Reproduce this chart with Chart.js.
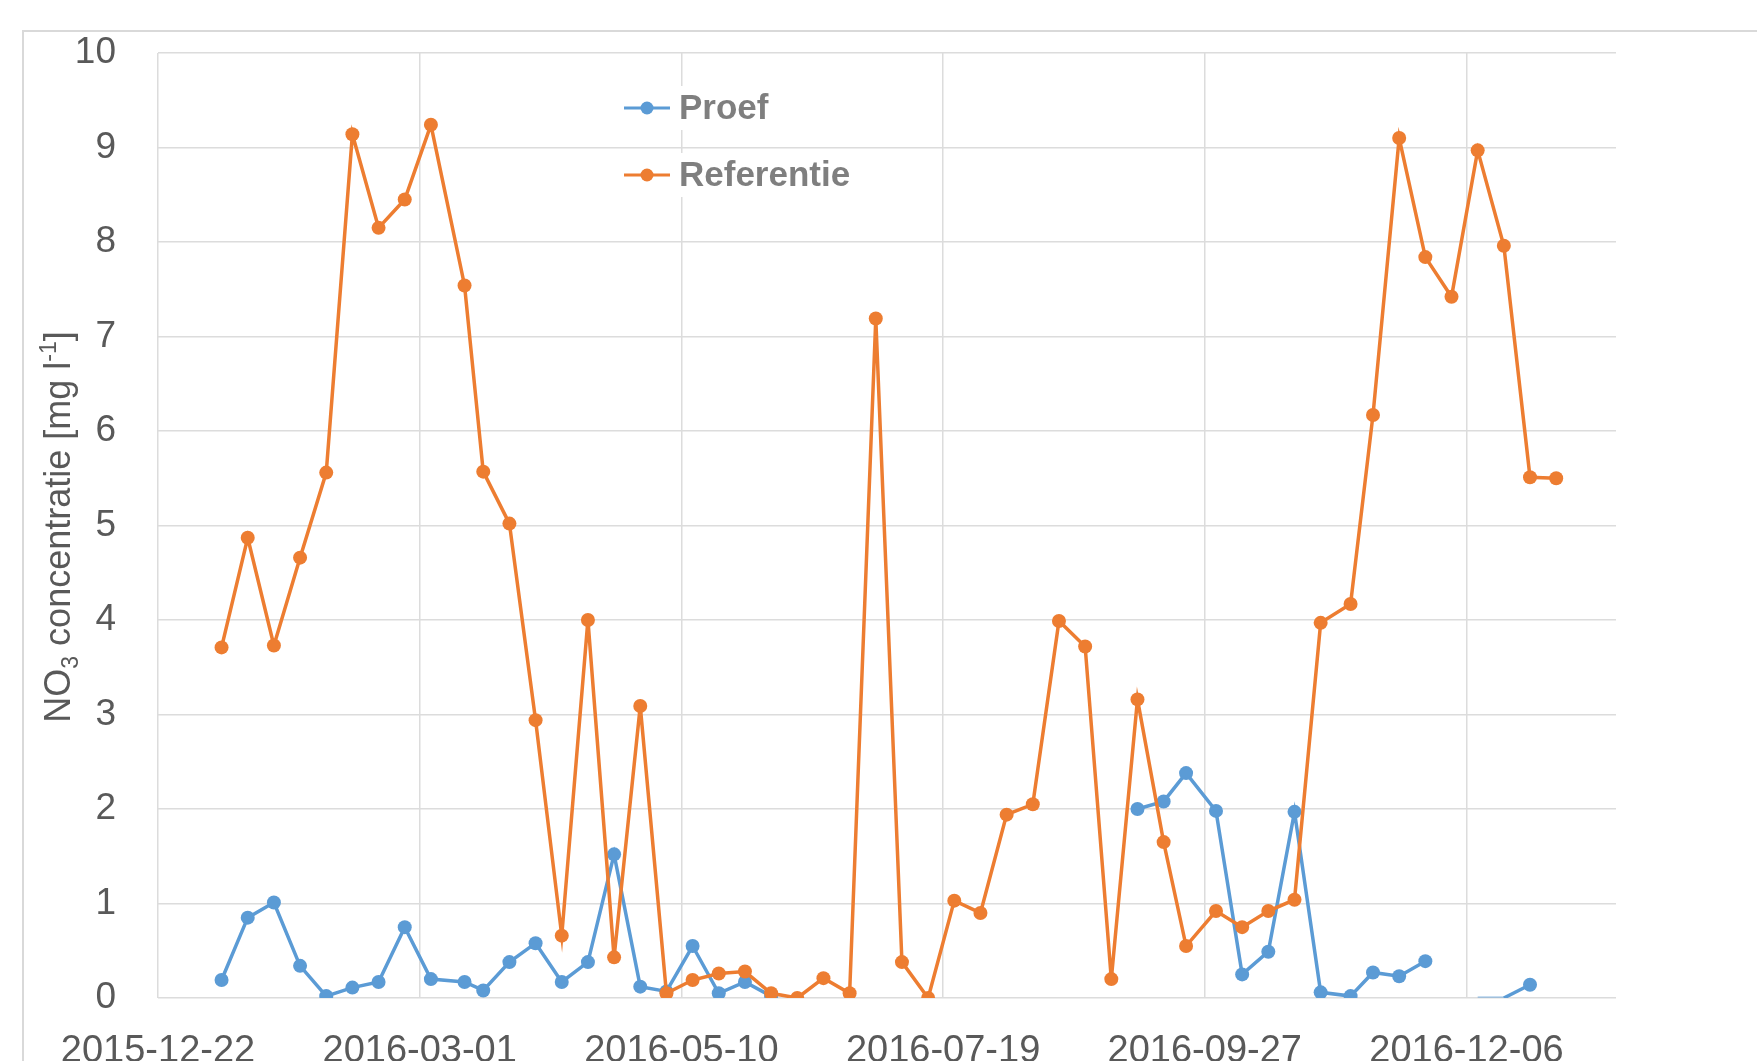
<!DOCTYPE html>
<html>
<head>
<meta charset="utf-8">
<script src="https://cdn.jsdelivr.net/npm/chart.js@4.4.1/dist/chart.umd.min.js"></script>
<style>
html, body { margin: 0; padding: 0; background: #fff; }
#wrap { position: relative; width: 1757px; height: 1061px; overflow: hidden; }
#frame { position: absolute; left: 22px; top: 30px; width: 2000px; height: 2000px;
         border-left: 2px solid #d9d9d9; border-top: 2px solid #d9d9d9; }
#canvas { position: absolute; left: 0; top: 0; }
</style>
</head>
<body>
<div id="wrap">
  <div id="frame"></div>
  <canvas id="canvas" width="1757" height="1061"></canvas>
</div>
<script>
// axis starts at this date, labels every 70 days
const startDate = '2015-12-22';
const xTickDays = [0, 70, 140, 210, 280, 350];
const xMaxDays = 390;
const yTicks = [0, 1, 2, 3, 4, 5, 6, 7, 8, 9, 10];

// sample dates (weekly)
const sampleDates = [
  '2016-01-08', '2016-01-15', '2016-01-22', '2016-01-29', '2016-02-05', '2016-02-12',
  '2016-02-19', '2016-02-26', '2016-03-04', '2016-03-13', '2016-03-18', '2016-03-25',
  '2016-04-01', '2016-04-08', '2016-04-15', '2016-04-22', '2016-04-29', '2016-05-06',
  '2016-05-13', '2016-05-20', '2016-05-27', '2016-06-03', '2016-06-10', '2016-06-17',
  '2016-06-24', '2016-07-01', '2016-07-08', '2016-07-15', '2016-07-22', '2016-07-29',
  '2016-08-05', '2016-08-12', '2016-08-19', '2016-08-26', '2016-09-02', '2016-09-09',
  '2016-09-16', '2016-09-22', '2016-09-30', '2016-10-07', '2016-10-14', '2016-10-21',
  '2016-10-28', '2016-11-05', '2016-11-11', '2016-11-18', '2016-11-25', '2016-12-02',
  '2016-12-09', '2016-12-16', '2016-12-23', '2016-12-30'
];

// NO3 concentratie [mg/l]
const proef = [
  0.19, 0.85, 1.01, 0.34, 0.02, 0.11, 0.17, 0.75, 0.20, 0.17, 0.08, 0.38,
  0.58, 0.17, 0.38, 1.52, 0.12, 0.07, 0.55, 0.05, 0.17, 0.02, null, null,
  null, null, null, null, null, null, null, null, null, null, null, 2.00,
  2.08, 2.38, 1.98, 0.25, 0.49, 1.97, 0.06, 0.02, 0.27, 0.23, 0.39, null,
  0, 0, 0.14, null
];
const referentie = [
  3.71, 4.87, 3.73, 4.66, 5.56, 9.14, 8.15, 8.45, 9.24, 7.54, 5.57, 5.02,
  2.94, 0.66, 4.00, 0.43, 3.09, 0.05, 0.19, 0.26, 0.28, 0.05, 0.00, 0.21,
  0.05, 7.19, 0.38, 0.00, 1.03, 0.90, 1.94, 2.05, 3.99, 3.72, 0.20, 3.16,
  1.65, 0.55, 0.92, 0.75, 0.92, 1.04, 3.97, 4.17, 6.17, 9.10, 7.84, 7.42,
  8.97, 7.96, 5.51, 5.50
];

const BLUE = '#5b9bd5';
const ORANGE = '#ed7d31';
const TEXT = '#595959';
const GRID = '#dcdcdc';
const FONT = '"Liberation Sans", Arial, sans-serif';

const dayMs = 86400000;
function dayOffset(s) {
  return Math.round((Date.parse(s) - Date.parse(startDate)) / dayMs);
}
function dayLabel(d) {
  return new Date(Date.parse(startDate) + d * dayMs).toISOString().slice(0, 10);
}
function toPoints(values) {
  return sampleDates.map((s, i) => ({ x: dayOffset(s), y: values[i] }));
}

// y axis title with sub/superscript
const axisTitle = {
  id: 'axisTitle',
  afterDraw(chart) {
    const ctx = chart.ctx;
    const big = '36px ' + FONT;
    const small = '23px ' + FONT;
    const parts = [
      { t: 'NO', f: big, dy: 0 },
      { t: '3', f: small, dy: 8 },
      { t: ' concentratie [mg l', f: big, dy: 0 },
      { t: '-1', f: small, dy: -14 },
      { t: ']', f: big, dy: 0 }
    ];
    let total = 0;
    parts.forEach(p => { ctx.font = p.f; p.w = ctx.measureText(p.t).width; total += p.w; });
    ctx.save();
    ctx.translate(70, 527);
    ctx.rotate(-Math.PI / 2);
    ctx.fillStyle = TEXT;
    ctx.textBaseline = 'alphabetic';
    ctx.textAlign = 'left';
    let x = -total / 2;
    parts.forEach(p => { ctx.font = p.f; ctx.fillText(p.t, x, p.dy); x += p.w; });
    ctx.restore();
  }
};

// legend drawn inside the plot
const innerLegend = {
  id: 'innerLegend',
  afterDatasetsDraw(chart) {
    const ctx = chart.ctx;
    const x0 = 624, y0 = 108, gap = 67;
    ctx.save();
    ctx.font = 'bold 35px ' + FONT;
    ctx.textBaseline = 'middle';
    chart.data.datasets.forEach((ds, i) => {
      const y = y0 + i * gap;
      const w = ctx.measureText(ds.label).width;
      ctx.fillStyle = '#fff';
      ctx.fillRect(676, y - 22, w + 6, 44);
      ctx.strokeStyle = ds.borderColor;
      ctx.lineWidth = 3;
      ctx.beginPath();
      ctx.moveTo(x0, y);
      ctx.lineTo(x0 + 46, y);
      ctx.stroke();
      ctx.fillStyle = ds.borderColor;
      ctx.beginPath();
      ctx.arc(x0 + 23, y, 6.5, 0, Math.PI * 2);
      ctx.fill();
      ctx.fillStyle = '#7f7f7f';
      ctx.fillText(ds.label, 679, y + 1);
    });
    ctx.restore();
  }
};

const ctx = document.getElementById('canvas').getContext('2d');
new Chart(ctx, {
  type: 'line',
  data: {
    datasets: [{
      label: 'Proef',
      data: toPoints(proef),
      borderColor: BLUE,
      backgroundColor: BLUE,
      borderWidth: 3.5,
      pointRadius: c => (c.raw && c.raw.y <= 0 ? 0 : 7),
      pointBorderWidth: 0,
      segment: {
        borderColor: c => (c.p0.parsed.y <= 0 && c.p1.parsed.y <= 0 ? 'rgba(91,155,213,0.45)' : undefined)
      },
      spanGaps: false,
      order: 1
    }, {
      label: 'Referentie',
      data: toPoints(referentie),
      borderColor: ORANGE,
      backgroundColor: ORANGE,
      borderWidth: 3.5,
      pointRadius: 7,
      pointBorderWidth: 0,
      order: 0
    }]
  },
  options: {
    responsive: false,
    animation: false,
    devicePixelRatio: 1,
    layout: { padding: { top: 53, right: 141, left: 0, bottom: 0 } },
    elements: { line: { tension: 0 } },
    plugins: { legend: { display: false }, tooltip: { enabled: false } },
    scales: {
      x: {
        type: 'linear',
        min: 0,
        max: xMaxDays,
        afterBuildTicks: s => { s.ticks = xTickDays.map(v => ({ value: v })); },
        afterFit: s => { s.height = 63; s.paddingLeft = 0; s.paddingRight = 0; },
        border: { display: false },
        grid: { color: GRID, lineWidth: 1.5, drawTicks: false },
        ticks: {
          autoSkip: false,
          maxRotation: 0,
          padding: 31,
          color: TEXT,
          font: { family: FONT, size: 38 },
          callback: v => dayLabel(v)
        }
      },
      y: {
        min: 0,
        max: 10,
        afterBuildTicks: s => { s.ticks = yTicks.map(v => ({ value: v })); },
        afterFit: s => { s.width = 158; s.paddingTop = 0; s.paddingBottom = 0; },
        border: { display: false },
        grid: { color: GRID, lineWidth: 1.5, drawTicks: false },
        ticks: {
          padding: 42,
          color: TEXT,
          font: { family: FONT, size: 37 }
        }
      }
    }
  },
  plugins: [axisTitle, innerLegend]
});
</script>
</body>
</html>
